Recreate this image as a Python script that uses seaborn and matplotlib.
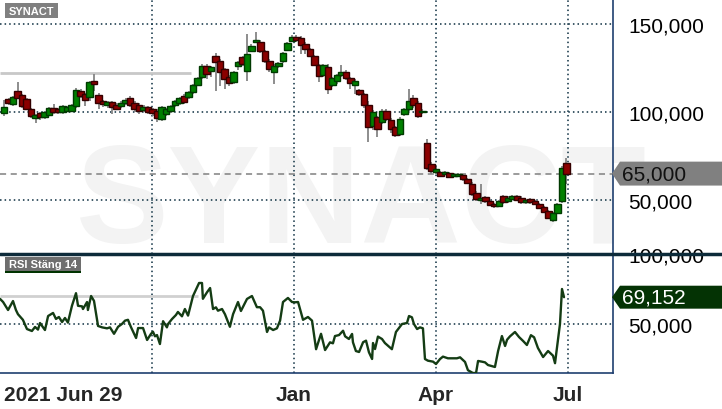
import matplotlib
matplotlib.use('Agg')
import matplotlib.pyplot as plt
import seaborn as sns
import pandas as pd
from matplotlib.patches import Polygon, Rectangle
from matplotlib.lines import Line2D
from matplotlib.transforms import blended_transform_factory

# Price candles, one every second trading day from 2021-06-29 (SEK)
opens = [99.5, 107.4, 104.5, 112, 109.7, 107.4, 101.7, 96.6, 99.4, 97.2,
         98.3, 102.3, 101.7, 100, 100.6, 100.6, 103.4, 112, 110.2, 108.5,
         117.6, 109.7, 106.3, 104, 105.7, 104, 103.4, 105.1, 108, 105.1,
         104, 101.1, 102.8, 101.7, 100.6, 96, 98.9, 100.6, 104, 105.1,
         109.1, 108.5, 111.4, 115.3, 119.9, 126.1, 123.3, 131.8, 129, 124.4,
         119.9, 117.1, 126.1, 131.3, 123.3, 134.7, 139.8, 139.8, 134.7, 129,
         122.7, 126.1, 129, 135.2, 140.3, 142.6, 142, 138.6, 135.8, 131.8,
         126.7, 121, 125.6, 115.3, 117.6, 121, 122.7, 119.3, 115.3, 112.5,
         110.2, 104, 92.1, 97.2, 94.3, 100.6, 95.5, 91.5, 87.5, 98.9,
         101.7, 108, 105.1, 100, 82.4, 70.5, 65.9, 65.9, 64.8, 65.3,
         63.6, 63.6, 64.2, 61.9, 59.1, 54, 49.9, 51.7, 49.4, 47.7,
         46.6, 52.3, 49.4, 50.6, 52.3, 51.1, 48.8, 50.6, 49.4, 47.7,
         46, 43.8, 38.6, 42.6, 49.4, 71]
highs = [107, 108, 109, 117, 110.5, 108, 102.5, 99, 100, 100.5,
         103, 104.5, 102.5, 104, 103.5, 104.5, 113.5, 113, 111, 117.5,
         121.6, 111, 107, 106.5, 106.5, 105, 106, 108, 109, 106,
         105, 104, 103.5, 102.5, 101.5, 103.5, 102.5, 104, 107, 108.5,
         110, 112, 116, 120, 127.5, 127.5, 126, 133.5, 130, 125,
         121, 123.5, 129, 132, 144.3, 138.5, 145.5, 141, 135.5, 130,
         127, 128.5, 134, 140, 143.5, 143.5, 143, 139.5, 136.5, 132.5,
         127.5, 127.5, 127, 120, 121.5, 126.7, 124, 120, 118.5, 113,
         111, 106.5, 101, 98, 101.5, 101.5, 96.5, 92, 97, 102.5,
         113.1, 109.5, 106, 101.5, 84.7, 71.5, 68.5, 66.5, 66.5, 66,
         65.3, 65.5, 65, 62.5, 60, 55, 59, 52.5, 50, 48.5,
         50, 53, 52, 53, 53, 52, 50.5, 51, 50, 48.5,
         46.5, 44.5, 43, 48.3, 69.5, 73.9]
lows = [98, 104, 103.5, 107.5, 102.5, 101, 96.5, 94, 95.5, 96,
        97.5, 99, 99, 99, 100, 100, 102.5, 108, 103.5, 106,
        112, 101.7, 103, 102, 99, 101, 102.5, 104, 103, 100,
        99, 100, 99, 98, 94.5, 94.9, 98, 99.5, 103, 104,
        104.5, 107.5, 110.5, 114.5, 118.5, 118.8, 120, 111.9, 115, 113,
        115, 116, 124, 126, 117.6, 134, 139, 133.5, 128, 123,
        115.9, 125, 128, 134.5, 139.5, 140, 133, 133, 131, 126,
        117.1, 120, 110.2, 114, 116, 120, 118, 113, 110, 109,
        102, 83, 90, 86, 93, 95, 88, 86, 86.5, 98,
        100.5, 102, 96.5, 99, 67, 65, 65, 63, 64, 62.5,
        63, 63, 61, 59, 52.5, 49.5, 47.5, 48.5, 46.5, 45.5,
        46, 48, 48.5, 49.8, 49.5, 48, 48, 48, 47, 45,
        42.5, 39, 37.5, 42, 48.5, 59.1]
closes = [103, 105.1, 108.5, 108, 103.4, 101.7, 97.7, 98.3, 97.2, 100,
          102.3, 100, 100, 103.4, 102.8, 104, 112.5, 109.1, 106.8, 117.1,
          115.9, 105.1, 104.5, 105.7, 102.8, 101.7, 105.1, 106.8, 104, 101.7,
          100.6, 102.8, 100, 99.4, 96.6, 102.8, 101.7, 103.4, 106.3, 108,
          105.7, 111.4, 115.3, 119.3, 126.1, 121.6, 125.6, 128.4, 122.7, 118.8,
          116.5, 122.7, 128.4, 127.3, 133, 137.5, 140.9, 134.7, 129, 124.4,
          126.1, 127.8, 133.5, 139.2, 142.6, 140.9, 138.1, 135.8, 131.8, 126.7,
          120.5, 126.7, 113.1, 119.3, 121, 122.7, 119.3, 116.5, 117.6, 110.2,
          104, 91.5, 100, 90.3, 100.6, 96, 90.3, 86.9, 96, 101.7,
          106.3, 104, 97.7, 100.6, 68.2, 66.5, 67.6, 63.6, 65.9, 63.1,
          64.8, 64.8, 61.9, 59.7, 53.4, 50.6, 51.1, 49.4, 47.2, 46.6,
          49.4, 48.8, 51.1, 52.3, 50, 48.8, 50, 48.8, 47.7, 45.5,
          43.2, 39.8, 42.6, 47.7, 68.2, 65]

# RSI (close, 14) read as (trading day, value) vertices
rsi_day = [-1.8, -0.4, 1.8, 4.0, 5.3, 6.2, 8.4, 10.2, 12.4, 13.8, 15.1, 16.0, 18.2, 19.6,
           21.8, 23.1, 24.4, 25.8, 27.1, 28.4, 30.2, 32.0, 32.9, 34.7, 35.1, 36.9, 37.3,
           38.7, 40.0, 41.8, 43.6, 45.8, 47.1, 48.9, 50.7, 52.4, 53.8, 55.1, 56.4, 58.7,
           59.6, 61.8, 63.6, 65.3, 66.2, 67.1, 68.0, 69.3, 70.7, 72.4, 72.9, 74.7, 76.4,
           77.3, 79.1, 80.4, 81.8, 84.0, 86.7, 88.0, 88.4, 90.2, 91.6, 92.9, 94.2, 95.1,
           96.9, 98.2, 100.4, 101.8, 104.0, 105.3, 108.0, 110.2, 112.4, 113.8, 115.1,
           116.9, 117.8, 119.6, 121.3, 122.7, 124.0, 126.2, 128.0, 129.3, 130.7, 132.9,
           135.1, 136.9, 138.7, 140.9, 142.7, 144.9, 146.2, 147.1, 148.9, 150.7, 151.6,
           153.3, 154.7, 155.1, 156.4, 157.8, 159.6, 160.9, 162.2, 163.6, 164.0, 164.9,
           166.2, 168.0, 169.3, 172.4, 174.2, 176.9, 179.1, 180.0, 181.3, 182.2, 183.6,
           184.9, 186.2, 187.1, 188.4, 190.7, 192.0, 193.8, 195.1, 197.3, 201.3, 202.7,
           204.9, 206.2, 208.4, 209.8, 210.7, 212.4, 213.8, 215.1, 218.2, 219.6, 221.3,
           222.7, 223.6, 224.9, 227.1, 228.9, 230.7, 232.4, 234.2, 235.6, 237.3, 239.6,
           241.8, 244.0, 244.9, 245.8, 247.1, 248.0, 248.9]
rsi_val = [68, 65.7, 60, 66.4, 60, 57, 53, 46.4, 45, 47.9, 46, 50.7, 45.7, 55.7,
           57.9, 53.6, 55, 51.4, 54.3, 51, 63, 72, 63, 62.6, 60.7, 65.7, 60,
           70, 66.5, 48.6, 47.6, 46.9, 47.6, 43, 48, 50, 52.4, 53, 47.9, 40,
           47.1, 47.1, 38.6, 42.9, 44.5, 41.2, 42.1, 35.7, 52, 47.6, 50, 53.6, 56.4,
           58.6, 55.5, 60.7, 56, 70, 79.3, 79.3, 68, 72.6, 75.7, 60.7, 61.9, 59.5,
           60.7, 57, 48, 57, 65.7, 59.3, 67.9, 70, 62, 62, 59.5,
           44.3, 47.6, 45.7, 46.9, 52.4, 65.7, 68.6, 65.7, 65.5, 65.7, 53,
           55, 52.4, 32, 43, 31.4, 36.9, 36.2, 41.4, 42.1, 45.2, 41.2,
           39.3, 42.9, 36.9, 30.7, 30, 37, 38.1, 29.8, 25, 36.4, 32.1,
           41, 39.3, 36.4, 32, 44.3, 50, 50.7, 55.7, 54.8, 50, 46.4,
           47.6, 46.9, 25, 23.8, 23.1, 21.4, 25, 26.7, 25.5, 25.5, 26.2,
           22.9, 17, 15, 15, 23.6, 23.1, 22.6, 20.7, 19.3, 30.7, 41.4,
           34.3, 38.8, 41.2, 44.3, 40.7, 37.9, 35, 42, 40.5, 32.9, 26.4,
           30.7, 27.4, 22, 33.6, 50, 75, 69.152]

last_price = 65.0
last_rsi = 69.152
price_mark = 122.0      # grey marker line in the price panel
rsi_mark = 70.0
quarter_days = [65.8, 128.9, 192.0, 250.7]
tick_days = [0, 65.8, 128.9, 192.0, 250.7]
tick_labels = ['2021 Jun 29', '', 'Jan', 'Apr', 'Jul']

df = pd.DataFrame({'open': opens, 'high': highs, 'low': lows, 'close': closes})
df['day'] = range(0, 2 * len(df), 2)
df['up'] = df['close'] >= df['open']

sns.set_style('white')
plt.rcParams['font.family'] = ['Liberation Sans', 'DejaVu Sans']

W, H = 722, 410
fig = plt.figure(figsize=(W / 100, H / 100), dpi=100)
ax = fig.add_axes([0, 155 / H, 613 / W, 255 / H])
ax2 = fig.add_axes([0, 36 / H, 613 / W, 119 / H], sharex=ax)

grid_kw = dict(color='#0b2e40', ls=(0, (1, 2)), lw=1.1, zorder=1)
frame = '#1f3f6f'

# watermark
ax.text(361 / 613, 1 - 243 / 255, 'SYNACT', transform=ax.transAxes, ha='center',
        va='baseline', fontsize=100, fontweight='bold', color='#f3f3f3', zorder=0)

# price panel
for d in quarter_days:
    ax.axvline(d, **grid_kw)
for v in [50, 100, 150]:
    ax.axhline(v, **grid_kw)
ax.hlines(price_mark, -2, 83, color='#c8c8c8', lw=2, zorder=1.5)
ax.axhline(last_price, color='#808080', ls=(0, (4, 3)), lw=1.1, zorder=1.6)

ax.vlines(df['day'], df['low'], df['high'], color='#858585', lw=1.3, zorder=2)
body_bottom = df[['open', 'close']].min(axis=1)
body_height = (df['close'] - df['open']).abs().clip(lower=0.7)
ax.bar(df['day'], body_height, bottom=body_bottom, width=3.0,
       color=['#008000' if u else '#8b0000' for u in df['up']],
       edgecolor=['#003a00' if u else '#330000' for u in df['up']],
       lw=1.0, zorder=3)

ax.set_xlim(-1.78, 270.67)
ax.set_ylim(19.32, 164.2)
ax.yaxis.tick_right()
ax.set_yticks([50, 100, 150], ['50,000', '100,000', '150,000'])
ax.tick_params(axis='y', length=0, pad=10.8, labelsize=15, labelcolor='black')
ax.tick_params(axis='x', bottom=False, labelbottom=False)
for s in ['top', 'left', 'bottom']:
    ax.spines[s].set_visible(False)
ax.spines['right'].set_color(frame)
ax.spines['right'].set_linewidth(1.2)

# RSI panel
for d in quarter_days:
    ax2.axvline(d, **grid_kw)
ax2.axhline(50, **grid_kw)
ax2.hlines(rsi_mark, -2, 86, color='#d0d0d0', lw=2, zorder=1.5)
sns.lineplot(x=rsi_day, y=rsi_val, ax=ax2, color='#143c14', lw=1.7, zorder=3)
ax2.set_ylim(15, 100)
ax2.set_xlim(-1.78, 270.67)
ax2.yaxis.tick_right()
ax2.set_yticks([50, 100], ['50,000', '100,000'])
ax2.tick_params(axis='y', length=0, pad=10.8, labelsize=15, labelcolor='black')
ax2.set_xticks(tick_days, tick_labels)
ax2.tick_params(axis='x', length=6, width=1.2, color=frame, pad=3, labelsize=15)
for lab in ax2.get_xticklabels():
    lab.set_fontweight('bold')
ax2.get_xticklabels()[0].set_ha('left')
ax2.xaxis.get_major_ticks()[3].tick1line.set_color('#ff5a5a')
for s in ['top', 'left']:
    ax2.spines[s].set_visible(False)
for s in ['right', 'bottom']:
    ax2.spines[s].set_color(frame)
    ax2.spines[s].set_linewidth(1.2)

# last-value tags on the right
def value_tag(axis, value, half, text, fc, tc):
    tr = blended_transform_factory(fig.transFigure, axis.transData)
    pts = [(612 / W, value), (620 / W, value + half), (1, value + half),
           (1, value - half), (620 / W, value - half)]
    axis.add_patch(Polygon(pts, closed=True, transform=tr, fc=fc, ec='none',
                           clip_on=False, zorder=6))
    axis.text(622 / W, value, text, transform=tr, ha='left', va='center',
              fontsize=15, color=tc, zorder=7, clip_on=False)

value_tag(ax, last_price, 6.8, '65,000', '#808080', '#111111')
value_tag(ax2, last_rsi, 8.2, '69,152', '#043304', 'white')

# panel title tags
def px_rect(x0, y0, x1, y1, color):
    fig.add_artist(Rectangle((x0 / W, 1 - y1 / H), (x1 - x0) / W, (y1 - y0) / H,
                             transform=fig.transFigure, fc=color, ec='none', zorder=8))

px_rect(5, 4, 58, 19, '#808080')
fig.text(31.5 / W, 1 - 11.8 / H, 'SYNACT', ha='center', va='center', color='white',
         fontsize=8, fontweight='bold', zorder=9)
px_rect(5, 258, 81, 272, '#6e6e6e')
px_rect(5, 272, 81, 274, '#003300')
fig.text(43 / W, 1 - 265.5 / H, 'RSI Stäng 14', ha='center', va='center', color='white',
         fontsize=8, fontweight='bold', zorder=9)

# separator between the panels
fig.add_artist(Line2D([0, 1], [1 - 255 / H] * 2, transform=fig.transFigure,
                      color='#0d2b3a', lw=2.5, zorder=10))

fig.savefig('out.png', dpi=100)
